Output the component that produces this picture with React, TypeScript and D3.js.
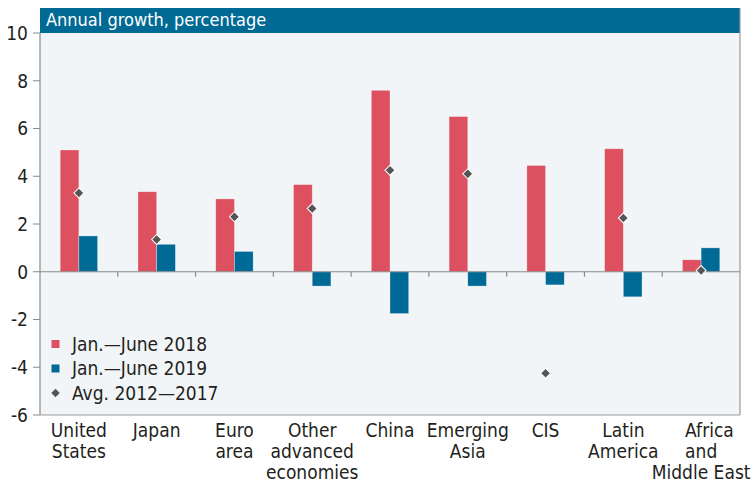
import React from "react";
import * as d3 from "d3";

const categories = ["United States", "Japan", "Euro area", "Other advanced economies", "China", "Emerging Asia", "CIS", "Latin America", "Africa and Middle East"];
const categoryLines = [["United", "States"], ["Japan"], ["Euro", "area"], ["Other", "advanced", "economies"], ["China"], ["Emerging", "Asia"], ["CIS"], ["Latin", "America"], ["Africa", "and", "Middle East"]];
const series2018 = [5.1, 3.35, 3.05, 3.65, 7.6, 6.5, 4.45, 5.15, 0.5];
const series2019 = [1.5, 1.15, 0.85, -0.6, -1.75, -0.6, -0.55, -1.05, 1.0];
const avg2012_2017 = [3.3, 1.35, 2.3, 2.65, 4.25, 4.1, -4.25, 2.25, 0.05];
const yTicks = [-6, -4, -2, 0, 2, 4, 6, 8, 10];
const seriesKeys = ["2018", "2019"];
const legendLabels = ["Jan.\u2014June 2018", "Jan.\u2014June 2019", "Avg. 2012\u20142017"];
const title = "Annual growth, percentage";

const RED = "#dd5060";
const BLUE = "#006a96";
const DIAMOND = "#555555";
const BG = "#f1f5f7";
const FONT = "'DejaVu Sans Condensed', 'DejaVu Sans', sans-serif";

export default function App() {
  const W = 754, H = 485;
  const left = 40, right = 740, top = 33, bottom = 415, bandTop = 8;
  const y = d3.scaleLinear().domain([-6, 10]).range([bottom, top]);
  const x0 = d3.scaleBand<string>().domain(categories).range([left, right]).padding(0);
  const x1 = d3.scaleBand<string>().domain(seriesKeys).range([0, x0.bandwidth()]).paddingInner(0).paddingOuter(1.08);
  const diamond = d3.symbol().type(d3.symbolSquare).size(50)();
  const legendDiamond = d3.symbol().type(d3.symbolSquare).size(36)();
  const seriesData = [series2018, series2019];
  const colors = [RED, BLUE];

  return (
    <svg width={W} height={H} style={{ position: "absolute", left: 0, top: 0 }} fontFamily={FONT}>
      <rect x={0} y={0} width={W} height={H} fill="#ffffff" />
      <rect x={left} y={top} width={right - left} height={bottom - top} fill={BG} />
      <rect x={left} y={bandTop} width={right - left} height={top - bandTop} fill="#006994" />
      <text x={46} y={26} fill="#ffffff" fontSize={18}>{title}</text>
      {/* frame */}
      <line x1={right} x2={right} y1={bandTop} y2={bottom} stroke="#9a9a9a" strokeWidth={1.2} />
      <line x1={left} x2={right} y1={bottom} y2={bottom} stroke="#9a9a9a" strokeWidth={1.2} />
      <line x1={left} x2={left} y1={top} y2={bottom} stroke="#8a8a8a" strokeWidth={1.2} />
      {/* y ticks */}
      {yTicks.map((t) => (
        <g key={t}>
          <line x1={left - 7} x2={left} y1={y(t)} y2={y(t)} stroke="#8a8a8a" strokeWidth={1} />
          <text x={28} y={y(t)} dy="0.36em" textAnchor="end" fontSize={19} fill="#231f20">{t}</text>
        </g>
      ))}
      {/* bars */}
      {categories.map((c, i) => (
        <g key={c}>
          {seriesData.map((s, j) => {
            const v = s[i];
            const bx = (x0(c) as number) + (x1(seriesKeys[j]) as number);
            return (
              <rect key={j} x={bx} width={x1.bandwidth()} y={y(Math.max(0, v))} height={Math.abs(y(v) - y(0))} fill={colors[j]} stroke="#ffffff" strokeOpacity={0.5} strokeWidth={0.6} />
            );
          })}
        </g>
      ))}
      {/* zero line */}
      <line x1={left} x2={right} y1={y(0)} y2={y(0)} stroke="#8a8a8a" strokeWidth={1.2} />
      {categories.slice(1).map((c) => (
        <line key={c} x1={x0(c) as number} x2={x0(c) as number} y1={y(0)} y2={y(0) + 5} stroke="#8a8a8a" strokeWidth={1.2} />
      ))}
      {/* diamonds */}
      {categories.map((c, i) => (
        <path key={c} d={diamond as string} transform={`translate(${(x0(c) as number) + x0.bandwidth() / 2},${y(avg2012_2017[i])}) rotate(45)`} fill={DIAMOND} stroke="#ffffff" strokeWidth={1} />
      ))}
      {/* category labels */}
      {categories.map((c, i) => {
        const cx = (x0(c) as number) + x0.bandwidth() / 2;
        const lines = categoryLines[i];
        const isAfrica = i === categories.length - 1;
        return (
          <g key={c}>
            {lines.map((ln, k) => (
              <text key={k} x={isAfrica && k < 2 ? cx - 16 : cx} y={437 + k * 21} textAnchor={isAfrica && k < 2 ? "start" : "middle"} fontSize={19} fill="#231f20">{ln}</text>
            ))}
          </g>
        );
      })}
      {/* legend */}
      {legendLabels.map((lab, k) => {
        const ly = 344 + k * 24.5;
        return (
          <g key={lab}>
            {k < 2 ? (
              <rect x={51.5} y={ly - 4} width={8} height={8} fill={colors[k]} />
            ) : (
              <path d={legendDiamond as string} transform={`translate(55.5,${ly}) rotate(45)`} fill={DIAMOND} />
            )}
            <text x={72} y={ly} dy="0.36em" fontSize={19} fill="#231f20">{lab}</text>
          </g>
        );
      })}
    </svg>
  );
}
